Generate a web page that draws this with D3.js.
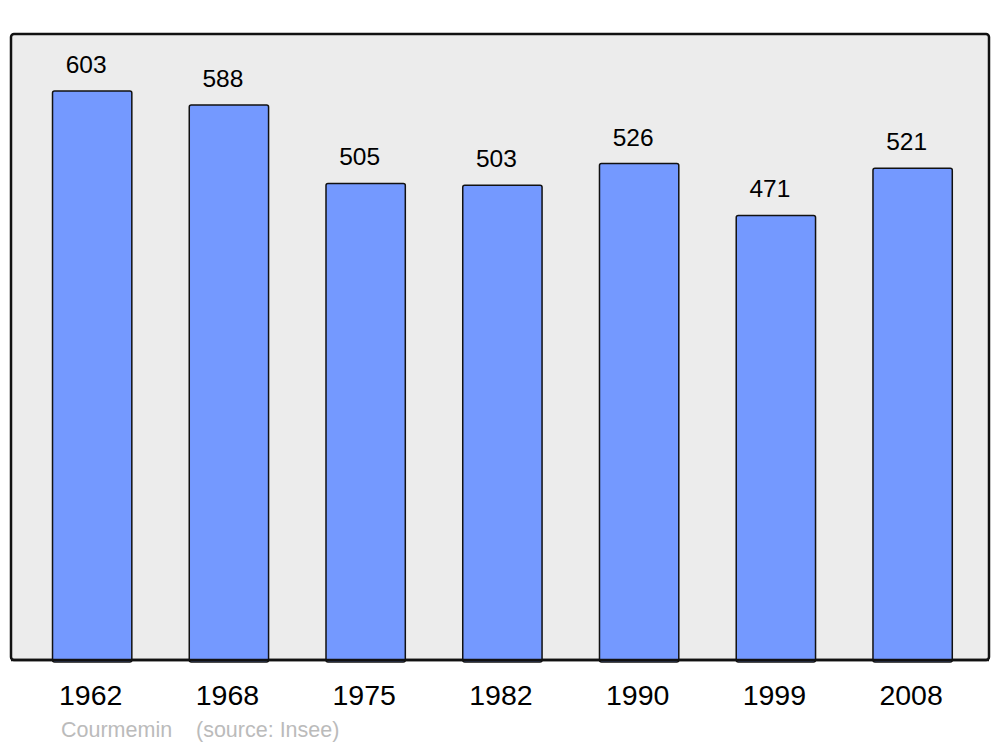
<!DOCTYPE html>
<html>
<head>
<meta charset="utf-8">
<script src="https://cdn.jsdelivr.net/npm/d3@7"></script>
<style>
  body { margin: 0; background: white; }
  text { font-family: "Liberation Sans", Arial, sans-serif; }
</style>
</head>
<body>
<div id="chart"></div>
<script>
var years = ['1962', '1968', '1975', '1982', '1990', '1999', '2008'];
var population = [603, 588, 505, 503, 526, 471, 521];
var footer = ['Courmemin', '(source: Insee)'];

function render(){
  var width = 1000, height = 747;
  var panel = {'left': 11, 'top': 34, 'right': 989, 'bottom': 660};

  var svg = d3.select('#chart')
    .append('svg')
    .attr('width', width)
    .attr('height', height);

  svg.append('rect')
    .attr('x', panel.left)
    .attr('y', panel.top)
    .attr('width', panel.right - panel.left)
    .attr('height', panel.bottom - panel.top)
    .attr('rx', 3)
    .attr('fill', '#ececec')
    .attr('stroke', '#111')
    .attr('stroke-width', 2.5);

  var x = d3.scaleBand()
    .domain(years)
    .range([23.8, 981])
    .paddingInner(0.42)
    .paddingOuter(0.21);

  var y = d3.scaleLinear()
    .domain([0, d3.max(population) * 1.1])
    .range([panel.bottom, panel.top]);

  var bars = svg.selectAll('g.bar')
    .data(population)
    .enter()
    .append('g')
    .attr('class', 'bar');

  bars.append('rect')
    .attr('x', function(d, i) { return x(years[i]); })
    .attr('y', function(d) { return y(d); })
    .attr('width', x.bandwidth())
    .attr('height', function(d) { return panel.bottom - y(d) + 2; })
    .attr('rx', 2)
    .attr('fill', '#7499ff')
    .attr('stroke', '#111')
    .attr('stroke-width', 1.5);

  bars.append('text')
    .attr('x', function(d, i) { return x(years[i]) + x.bandwidth() / 2 - 6; })
    .attr('y', function(d) { return y(d) - 18; })
    .attr('text-anchor', 'middle')
    .attr('font-size', 24.5)
    .attr('fill', '#000')
    .text(function(d) { return d; });

  // redraw panel border on top of bar bottoms
  svg.append('line')
    .attr('x1', panel.left)
    .attr('x2', panel.right)
    .attr('y1', panel.bottom)
    .attr('y2', panel.bottom)
    .attr('stroke', '#111')
    .attr('stroke-width', 2.5);

  svg.selectAll('text.year')
    .data(years)
    .enter()
    .append('text')
    .attr('class', 'year')
    .attr('x', function(d) { return x(d) + x.bandwidth() / 2 - 1.5; })
    .attr('y', 705)
    .attr('text-anchor', 'middle')
    .attr('font-size', 28.5)
    .attr('fill', '#000')
    .text(function(d) { return d; });

  svg.append('text')
    .attr('x', 61)
    .attr('y', 737)
    .attr('font-size', 21.5)
    .attr('fill', '#bbb')
    .text(footer[0]);

  svg.append('text')
    .attr('x', 196)
    .attr('y', 737)
    .attr('font-size', 21.5)
    .attr('fill', '#bbb')
    .text(footer[1]);
}

render();
</script>
</body>
</html>
